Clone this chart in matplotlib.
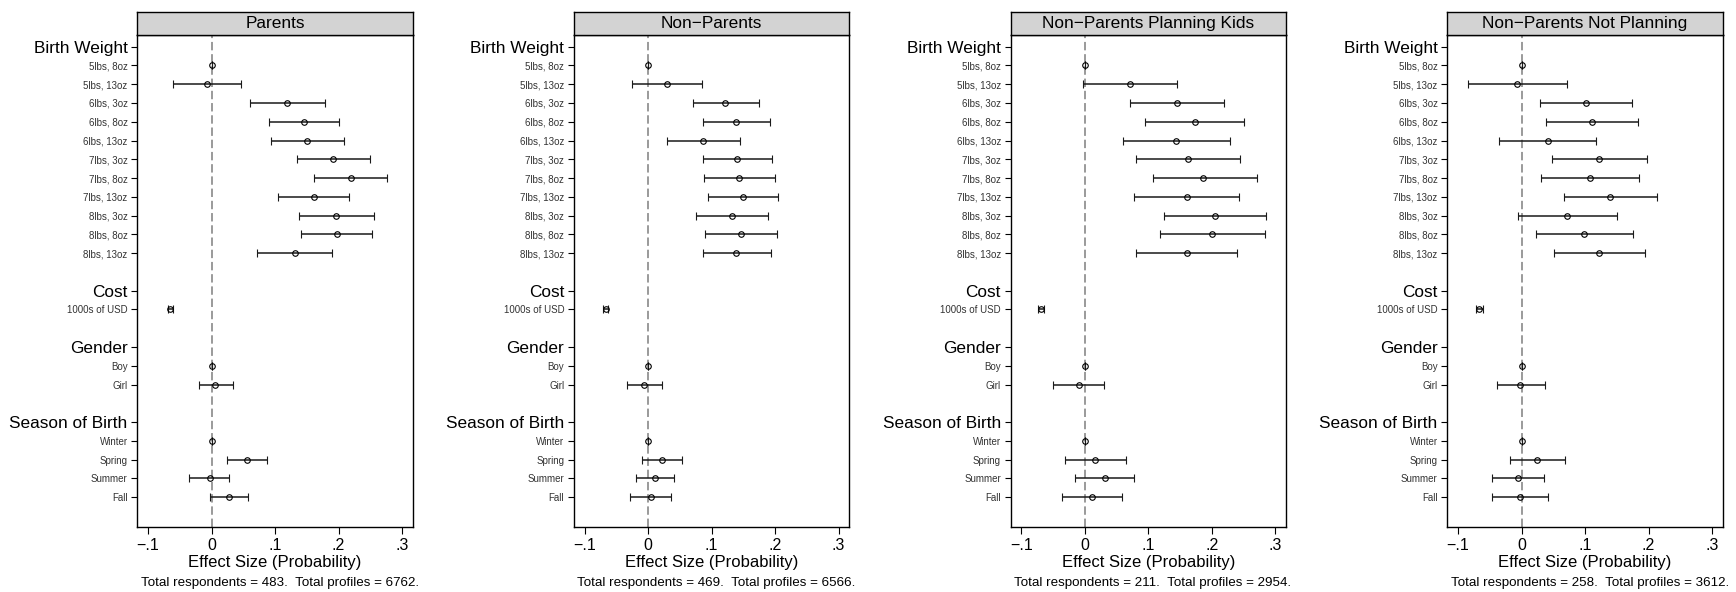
import numpy as np
import matplotlib.pyplot as plt

plt.rcParams['font.family'] = ['Liberation Sans', 'DejaVu Sans']

# attribute groups and their levels (first level of each is the reference)
groups = ['Birth Weight', 'Cost', 'Gender', 'Season of Birth']
levels = [
    ['5lbs, 8oz', '5lbs, 13oz', '6lbs, 3oz', '6lbs, 8oz', '6lbs, 13oz', '7lbs, 3oz',
     '7lbs, 8oz', '7lbs, 13oz', '8lbs, 3oz', '8lbs, 8oz', '8lbs, 13oz'],
    ['1000s of USD'],
    ['Boy', 'Girl'],
    ['Winter', 'Spring', 'Summer', 'Fall'],
]

panel_titles = ['Parents', 'Non\u2212Parents', 'Non\u2212Parents Planning Kids',
                'Non\u2212Parents Not Planning']
respondents = [483, 469, 211, 258]
profiles = [6762, 6566, 2954, 3612]

parents_est = [0, -0.007, 0.119, 0.145, 0.151, 0.192, 0.219, 0.161, 0.196, 0.197, 0.131,
               -0.065, 0, 0.006, 0, 0.055, -0.003, 0.028]
parents_lo = [0, -0.061, 0.061, 0.091, 0.094, 0.135, 0.161, 0.105, 0.137, 0.141, 0.072,
              -0.068, 0, -0.020, 0, 0.024, -0.035, -0.003]
parents_hi = [0, 0.046, 0.178, 0.200, 0.208, 0.249, 0.277, 0.217, 0.256, 0.252, 0.189,
              -0.061, 0, 0.034, 0, 0.087, 0.028, 0.058]

nonparents_est = [0, 0.029, 0.121, 0.139, 0.087, 0.140, 0.143, 0.149, 0.132, 0.146, 0.139,
                  -0.067, 0, -0.006, 0, 0.021, 0.011, 0.004]
nonparents_lo = [0, -0.025, 0.070, 0.087, 0.030, 0.086, 0.088, 0.094, 0.076, 0.090, 0.086,
                 -0.071, 0, -0.033, 0, -0.010, -0.019, -0.028]
nonparents_hi = [0, 0.084, 0.174, 0.192, 0.144, 0.195, 0.199, 0.204, 0.188, 0.203, 0.193,
                 -0.064, 0, 0.022, 0, 0.054, 0.041, 0.036]

planning_est = [0, 0.071, 0.145, 0.173, 0.144, 0.163, 0.186, 0.160, 0.205, 0.200, 0.161,
                -0.069, 0, -0.010, 0, 0.016, 0.031, 0.011]
planning_lo = [0, -0.003, 0.071, 0.095, 0.060, 0.080, 0.107, 0.078, 0.124, 0.118, 0.080,
               -0.074, 0, -0.050, 0, -0.032, -0.015, -0.036]
planning_hi = [0, 0.145, 0.219, 0.250, 0.228, 0.245, 0.271, 0.243, 0.285, 0.283, 0.240,
               -0.064, 0, 0.030, 0, 0.064, 0.077, 0.059]

notplanning_est = [0, -0.007, 0.101, 0.111, 0.041, 0.122, 0.108, 0.140, 0.072, 0.099, 0.122,
                   -0.067, 0, -0.002, 0, 0.024, -0.005, -0.003]
notplanning_lo = [0, -0.085, 0.029, 0.038, -0.035, 0.048, 0.030, 0.067, -0.005, 0.022, 0.051,
                  -0.072, 0, -0.039, 0, -0.019, -0.046, -0.047]
notplanning_hi = [0, 0.071, 0.174, 0.183, 0.118, 0.197, 0.185, 0.214, 0.150, 0.176, 0.194,
                  -0.061, 0, 0.037, 0, 0.068, 0.036, 0.042]

panel_data = [
    (parents_est, parents_lo, parents_hi),
    (nonparents_est, nonparents_lo, nonparents_hi),
    (planning_est, planning_lo, planning_hi),
    (notplanning_est, notplanning_lo, notplanning_hi),
]

# y positions: group header, its levels, then one blank row
tick_pos, tick_lab, header_flag, item_pos = [], [], [], []
pos = 0
for g, lv in zip(groups, levels):
    tick_pos.append(pos)
    tick_lab.append(g)
    header_flag.append(True)
    for i, name in enumerate(lv):
        tick_pos.append(pos + 1 + i)
        tick_lab.append(name)
        header_flag.append(False)
        item_pos.append(pos + 1 + i)
    pos += len(lv) + 2
item_pos = np.array(item_pos)

fig = plt.figure(figsize=(17.36, 5.92), dpi=100)

lefts = [0.0791, 0.3306, 0.5822, 0.8337]
width = 0.1587
bottom = 0.1103
height = 0.8306
strip_h = 0.0394

for k in range(4):
    est, lo, hi = (np.array(a) for a in panel_data[k])
    ax = fig.add_axes([lefts[k], bottom, width, height])
    ax.axvline(0, color='#7f7f7f', ls=(0, (5.5, 2.5)), lw=1.1, zorder=0)
    ax.errorbar(est, item_pos, xerr=[est - lo, hi - est], fmt='o', mfc='none', mec='black',
                ms=4, mew=0.8, ecolor='#1a1a1a', elinewidth=1.1, capsize=2.6,
                capthick=1.1, zorder=3)
    ax.set_xlim(-0.117, 0.317)
    ax.set_ylim(25.57, -0.62)
    ax.set_xticks([-0.1, 0, 0.1, 0.2, 0.3])
    ax.set_xticklabels(['\u2212.1', '0', '.1', '.2', '.3'], fontsize=11.5)
    ax.tick_params(axis='x', direction='out', length=4.8, width=0.8, pad=3)
    ax.set_yticks(tick_pos)
    ax.set_yticklabels(tick_lab)
    for lab, head in zip(ax.get_yticklabels(), header_flag):
        if head:
            lab.set_fontsize(12.4)
            lab.set_color('black')
        else:
            lab.set_fontsize(7)
            lab.set_color('#333333')
    ax.tick_params(axis='y', direction='out', length=4, width=0.8, pad=3)
    for sp in ax.spines.values():
        sp.set_linewidth(1.0)
    ax.set_xlabel('Effect Size (Probability)', fontsize=12, labelpad=2)

    # title strip
    sax = fig.add_axes([lefts[k], bottom + height, width, strip_h])
    sax.set_facecolor('#d3d3d3')
    sax.set_xticks([])
    sax.set_yticks([])
    for sp in sax.spines.values():
        sp.set_linewidth(1.0)
    sax.text(0.5, 0.48, panel_titles[k], ha='center', va='center', fontsize=12.4,
             transform=sax.transAxes)

    fig.text(lefts[k] + 0.002, 1 - 583.3 / 592,
             f'Total respondents = {respondents[k]}.  Total profiles = {profiles[k]}.',
             ha='left', va='center', fontsize=9.6)

fig.savefig('out.png', dpi=100)
